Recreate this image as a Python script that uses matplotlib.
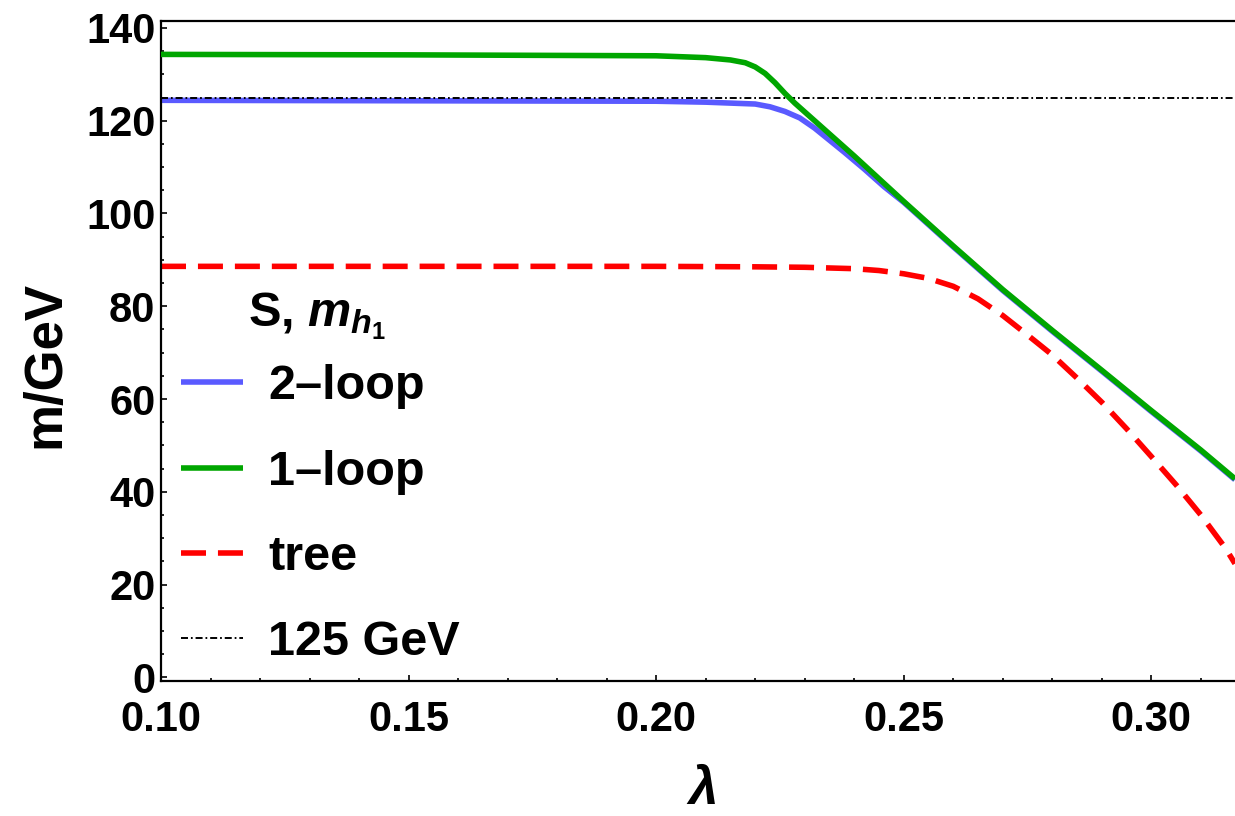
import matplotlib
matplotlib.use("Agg")
import matplotlib.pyplot as plt
from matplotlib.ticker import MultipleLocator

# lambda values and masses (GeV)
lam_green = [0.100, 0.150, 0.200, 0.210, 0.215, 0.218, 0.220, 0.222, 0.224, 0.226,
             0.228, 0.230, 0.240, 0.250, 0.260, 0.270, 0.280, 0.290, 0.300, 0.310, 0.3169]
m_green = [134.3, 134.2, 134.0, 133.6, 133.1, 132.5, 131.6, 130.2, 128.2, 125.9,
           123.8, 121.9, 112.4, 102.6, 93.0, 83.6, 74.8, 66.2, 57.5, 49.0, 42.8]

lam_blue = [0.100, 0.150, 0.200, 0.210, 0.215, 0.220, 0.223, 0.226, 0.229, 0.232,
            0.235, 0.238, 0.242, 0.246, 0.250, 0.260, 0.270, 0.280, 0.290, 0.300, 0.310, 0.3169]
m_blue = [124.4, 124.3, 124.2, 124.0, 123.8, 123.6, 123.0, 122.0, 120.6, 118.4,
          115.8, 113.2, 109.6, 105.8, 102.4, 92.8, 83.4, 74.6, 66.0, 57.3, 48.8, 42.6]

lam_tree = [0.100, 0.150, 0.200, 0.220, 0.230, 0.240, 0.245, 0.250, 0.255, 0.260,
            0.265, 0.270, 0.275, 0.280, 0.285, 0.290, 0.295, 0.300, 0.305, 0.310, 0.315, 0.3169]
m_tree = [88.6, 88.6, 88.6, 88.5, 88.4, 88.1, 87.7, 87.0, 86.0, 84.3,
          81.6, 78.0, 73.8, 69.5, 64.5, 59.3, 53.6, 47.6, 41.5, 35.0, 27.8, 24.5]

m_higgs = 125.0

plt.rcParams['font.family'] = ['Liberation Sans', 'DejaVu Sans']
plt.rcParams['font.weight'] = 'bold'
plt.rcParams['mathtext.fontset'] = 'custom'
plt.rcParams['mathtext.it'] = 'Liberation Sans:italic:bold'
plt.rcParams['mathtext.rm'] = 'Liberation Sans:bold'

fig = plt.figure(figsize=(12.35, 8.16), dpi=100)
ax = fig.add_axes([161 / 1235, 1 - 681 / 816, 1 - 161 / 1235, (681 - 21) / 816])

ax.plot(lam_tree, m_tree, color='#ff0000', lw=4, linestyle=(0, (4.5, 2.15)),
        label='tree', zorder=2)
ax.plot(lam_blue, m_blue, color='#5a5aff', lw=4, label='2\u2013loop', zorder=2,
        solid_capstyle='butt')
ax.axhline(m_higgs, color='black', lw=1.4, linestyle=(0, (3.6, 1.5, 0.9, 1.5)),
           label='125 GeV', zorder=2.5)
ax.plot(lam_green, m_green, color='#00a600', lw=4, label='1\u2013loop', zorder=3,
        solid_capstyle='butt')

ax.set_xlim(0.1, 0.3169)
ax.set_ylim(-0.8, 141.5)

ax.xaxis.set_major_locator(MultipleLocator(0.05))
ax.xaxis.set_minor_locator(MultipleLocator(0.01))
ax.yaxis.set_major_locator(MultipleLocator(20))
ax.yaxis.set_minor_locator(MultipleLocator(5))
ax.xaxis.set_major_formatter(matplotlib.ticker.FormatStrFormatter('%.2f'))

ax.tick_params(which='both', direction='in', top=False, right=False, width=1.2)
ax.tick_params(which='major', length=4.5, labelsize=30)
ax.tick_params(which='minor', length=2.5)
ax.tick_params(axis='x', pad=14)
ax.tick_params(axis='y', pad=4)

for s in ['left', 'bottom', 'top']:
    ax.spines[s].set_linewidth(1.6)
ax.spines['right'].set_visible(False)

ax.set_ylabel('m/GeV', fontsize=38, fontweight='bold')
ax.yaxis.set_label_coords(-0.084, 0.479)
ax.set_xlabel('\u03bb', fontsize=38, fontweight='bold', fontstyle='italic')
ax.xaxis.set_label_coords(0.505, -0.127)

handles, labels = ax.get_legend_handles_labels()
order = [labels.index('2\u2013loop'), labels.index('1\u2013loop'),
         labels.index('tree'), labels.index('125 GeV')]
leg = ax.legend([handles[i] for i in order], [labels[i] for i in order],
                loc='upper left', bbox_to_anchor=(0.0186, 0.48),
                frameon=False, fontsize=35, borderpad=0, borderaxespad=0,
                handlelength=1.28, handletextpad=0.51, labelspacing=0.83)
ax.text(0.145, 0.553, r'S, $m_{h_1}$', transform=ax.transAxes, fontsize=35,
        fontweight='bold', ha='center', va='center')

fig.savefig('out.png', dpi=100)
